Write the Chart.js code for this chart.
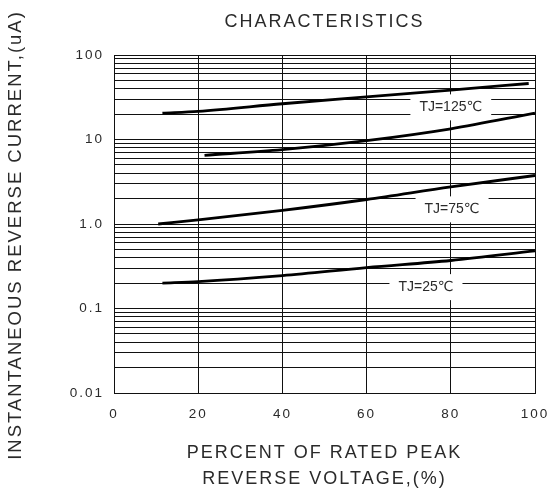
<!DOCTYPE html>
<html>
<head>
<meta charset="utf-8">
<style>
  html, body { margin: 0; padding: 0; background: #fff; }
  #wrap { width: 549px; height: 490px; position: relative; }
</style>
<script src="https://cdn.jsdelivr.net/npm/chart.js@4/dist/chart.umd.min.js"></script>
</head>
<body>
<div id="wrap"><canvas id="c" width="549" height="490"></canvas></div>
<script>
// ---- text ----
const titleLines = ["FIG.4 - TYPICAL REVERSE", "CHARACTERISTICS"];
const xAxisTitle = ["PERCENT OF RATED PEAK", "REVERSE VOLTAGE,(%)"];
const yAxisTitle = "INSTANTANEOUS REVERSE CURRENT,(uA)";

// ---- ticks ----
const xTickValues = [0, 20, 40, 60, 80, 100];
const yTickValues = [0.01, 0.1, 1, 10, 100];
const yTickLabels = ["0.01", "0.1", "1.0", "10", "100"];
const yMinorSteps = [1, 2, 3, 4, 5, 6, 7, 8, 9];

// ---- series (x = % of rated peak reverse voltage, y = current uA) ----
const curve1X = [11.5, 20, 40, 60, 80, 98.5];
const curve1Y = [20.5, 21.5, 26.5, 32, 38.5, 46];
const curve2X = [21.5, 40, 60, 80, 100];
const curve2Y = [6.5, 7.6, 9.7, 13.4, 20.5];
const curve3X = [10.5, 20, 40, 60, 80, 100];
const curve3Y = [1.0, 1.12, 1.45, 1.95, 2.75, 3.75];
const curve4X = [11.5, 20, 40, 60, 80, 100];
const curve4Y = [0.2, 0.208, 0.245, 0.305, 0.37, 0.48];

// ---- curve labels (placed in data coordinates) ----
const curveLabelText = ["TJ=125\u2103", "TJ=75\u2103", "TJ=25\u2103"];
const curveLabelX = [80, 80.3, 74.1];
const curveLabelY = [24, 1.49, 0.179];

const FONT = "'Liberation Sans', Arial, 'DejaVu Sans', sans-serif";
const TEXT = '#2a2a2a';

function pts(xs, ys) { return xs.map((x, i) => ({ x: x, y: ys[i] })); }

const yGridValues = [];
for (let d = 0; d < yTickValues.length - 1; d++) {
  for (const m of yMinorSteps) yGridValues.push(+(yTickValues[d] * m).toPrecision(6));
}
yGridValues.push(yTickValues[yTickValues.length - 1]);

const lineStyle = {
  borderColor: '#000', borderWidth: 2.8, pointRadius: 0, pointHoverRadius: 0,
  fill: false, tension: 0.4, cubicInterpolationMode: 'monotone', showLine: true
};

const spacingPlugin = {
  id: 'spacing',
  beforeDraw(chart) { chart.ctx.letterSpacing = '2px'; }
};

const labelPlugin = {
  id: 'curveLabels',
  beforeDatasetsDraw(chart) {
    const ctx = chart.ctx, xs = chart.scales.x, ys = chart.scales.y;
    ctx.save();
    ctx.letterSpacing = '0px';
    ctx.font = "14px " + FONT;
    ctx.textAlign = 'center';
    ctx.textBaseline = 'middle';
    curveLabelText.forEach((t, i) => {
      const px = xs.getPixelForValue(curveLabelX[i]);
      const py = ys.getPixelForValue(curveLabelY[i]);
      const w = ctx.measureText(t).width;
      ctx.fillStyle = '#fff';
      ctx.fillRect(px - w / 2 - 9, py - 13, w + 18, 26);
      ctx.fillStyle = TEXT;
      ctx.fillText(t, px, py);
    });
    ctx.restore();
  },
  afterDraw(chart) {
    const ctx = chart.ctx, a = chart.chartArea;
    ctx.save();
    ctx.letterSpacing = '2px';
    ctx.font = "18.5px " + FONT;
    ctx.fillStyle = TEXT;
    ctx.textAlign = 'center';
    ctx.textBaseline = 'middle';
    ctx.translate(16, (a.top + a.bottom) / 2 + 11);
    ctx.rotate(-Math.PI / 2);
    ctx.fillText(yAxisTitle, 0, 0);
    ctx.restore();
  }
};

new Chart(document.getElementById('c'), {
  type: 'line',
  data: {
    datasets: [
      Object.assign({ label: 'c1', data: pts(curve1X, curve1Y) }, lineStyle),
      Object.assign({ label: 'c2', data: pts(curve2X, curve2Y) }, lineStyle),
      Object.assign({ label: 'c3', data: pts(curve3X, curve3Y) }, lineStyle),
      Object.assign({ label: 'c4', data: pts(curve4X, curve4Y) }, lineStyle)
    ]
  },
  options: {
    responsive: false,
    animation: false,
    devicePixelRatio: 1,
    layout: { padding: { top: 0, right: 14, bottom: 0, left: 0 } },
    plugins: {
      legend: { display: false },
      tooltip: { enabled: false },
      title: {
        display: true,
        text: titleLines,
        fullSize: false,
        color: TEXT,
        font: { family: FONT, size: 18, weight: 'normal', lineHeight: 1.5 },
        padding: { top: -18.5, bottom: 19.5 }
      }
    },
    scales: {
      x: {
        type: 'linear',
        min: 0, max: 100,
        afterBuildTicks(scale) { scale.ticks = xTickValues.map(v => ({ value: v })); },
        afterFit(scale) { scale.height = 97; scale.paddingLeft = 0; scale.paddingRight = 0; },
        grid: { color: '#111', lineWidth: 1, drawTicks: false },
        border: { display: true, color: '#111', width: 1 },
        ticks: {
          color: TEXT, padding: 13, autoSkip: false, maxRotation: 0,
          font: { family: FONT, size: 13.5 }
        },
        title: {
          display: true, text: xAxisTitle, color: TEXT,
          font: { family: FONT, size: 18, lineHeight: 1.47 },
          padding: { top: 0, bottom: -2.25 }
        }
      },
      y: {
        type: 'logarithmic',
        min: 0.01, max: 100,
        afterBuildTicks(scale) { scale.ticks = yGridValues.map(v => ({ value: v })); },
        afterFit(scale) { scale.width = 114; scale.paddingTop = 0; scale.paddingBottom = 0; },
        grid: { color: '#111', lineWidth: 1, drawTicks: false },
        border: { display: true, color: '#111', width: 1 },
        ticks: {
          color: TEXT, padding: 10, autoSkip: false,
          font: { family: FONT, size: 13.5 },
          callback(value) {
            const i = yTickValues.indexOf(value);
            return i >= 0 ? yTickLabels[i] : '';
          }
        }
      }
    }
  },
  plugins: [spacingPlugin, labelPlugin]
});
</script>
</body>
</html>
